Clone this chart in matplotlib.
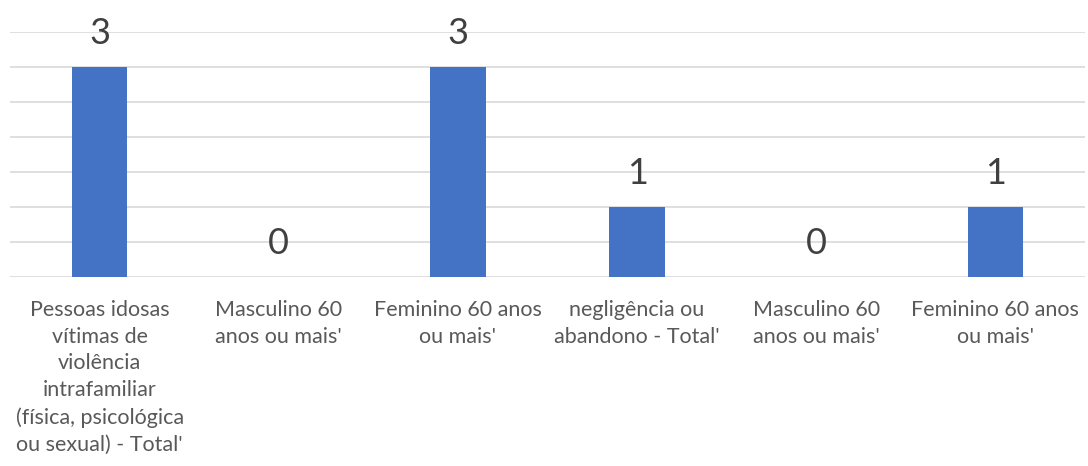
import matplotlib
matplotlib.use("Agg")
import matplotlib.pyplot as plt
import numpy as np

categories = [
    "Pessoas idosas\nvítimas de\nviolência\nintrafamiliar\n(física, psicológica\nou sexual) - Total'",
    "Masculino 60\nanos ou mais'",
    "Feminino 60 anos\nou mais'",
    "negligência ou\nabandono - Total'",
    "Masculino 60\nanos ou mais'",
    "Feminino 60 anos\nou mais'",
]
values = [3, 0, 3, 1, 0, 1]

plt.rcParams['font.family'] = ['Lato', 'DejaVu Sans']

fig = plt.figure(figsize=(10.88, 4.66), dpi=100)
ax = fig.add_axes([10/1088, 1-277/466, 1075/1088, (277-31.5)/466])

x = np.arange(len(categories))
bars = ax.bar(x, values, width=0.31, color='#4472C4', zorder=3)
ax.set_xlim(-0.5, len(categories)-0.5)
ax.set_ylim(0, 3.5)
ax.set_yticks(np.arange(0, 3.51, 0.5))
ax.yaxis.grid(True, color='#d9d9d9', linewidth=1.2, zorder=0)
ax.tick_params(axis='y', left=False, labelleft=False)
ax.tick_params(axis='x', bottom=False, pad=13)
for s in ax.spines.values():
    s.set_visible(False)
ax.set_xticks(x)
ax.set_xticklabels(categories, fontsize=15.5, color='#595959', linespacing=1.42)

for xi, v in zip(x, values):
    ax.annotate(str(v), (xi, v), xytext=(0, 12), textcoords='offset points',
                ha='center', va='bottom', fontsize=26, color='#404040')

fig.savefig('out.png', dpi=100)
